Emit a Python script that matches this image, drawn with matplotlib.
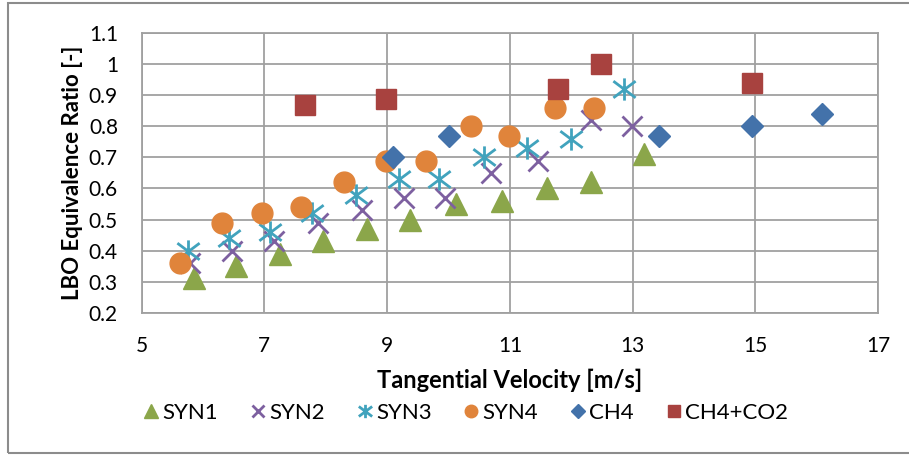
import matplotlib
matplotlib.use('Agg')
import matplotlib.pyplot as plt
from matplotlib.path import Path
from matplotlib.patches import Rectangle

# data
syn1_x = [5.85, 6.54, 7.26, 7.96, 8.68, 9.38, 10.13, 10.87, 11.60, 12.32, 13.18]
syn1_y = [0.31, 0.35, 0.39, 0.43, 0.47, 0.50, 0.55, 0.56, 0.60, 0.62, 0.71]
syn2_x = [5.79, 6.48, 7.15, 7.88, 8.59, 9.28, 9.94, 10.70, 11.45, 12.32, 12.99]
syn2_y = [0.36, 0.40, 0.43, 0.49, 0.53, 0.57, 0.57, 0.65, 0.69, 0.82, 0.80]
syn3_x = [5.75, 6.43, 7.10, 7.77, 8.49, 9.20, 9.85, 10.58, 11.28, 11.99, 12.86]
syn3_y = [0.40, 0.44, 0.46, 0.52, 0.58, 0.63, 0.63, 0.70, 0.73, 0.76, 0.92]
syn4_x = [5.62, 6.31, 6.96, 7.60, 8.30, 8.98, 9.64, 10.37, 10.98, 11.73, 12.37]
syn4_y = [0.36, 0.49, 0.52, 0.54, 0.62, 0.69, 0.69, 0.80, 0.77, 0.86, 0.86]
ch4_x = [9.09, 10.01, 13.43, 14.94, 16.08]
ch4_y = [0.70, 0.77, 0.77, 0.80, 0.84]
co2_x = [7.66, 8.99, 11.79, 12.48, 14.94]
co2_y = [0.87, 0.89, 0.92, 1.00, 0.94]

plt.rcParams['font.family'] = ['Lato', 'DejaVu Sans']

# excel-like asterisk marker (x plus vertical bar)
star = Path([(0, -1), (0, 1), (-1, -0.75), (1, 0.75), (-1, 0.75), (1, -0.75)],
            [Path.MOVETO, Path.LINETO, Path.MOVETO, Path.LINETO, Path.MOVETO, Path.LINETO])

fig = plt.figure(figsize=(9.09, 4.57), dpi=100)
fig.patches.append(Rectangle((8/909, 4/457), 1.1, 1-7/457, transform=fig.transFigure,
                             fill=False, edgecolor='#8c8c8c', linewidth=1.5))
ax = fig.add_axes([0.1557, 0.316, 0.8105, 0.611])

ax.plot(syn1_x, syn1_y, ls='none', marker='^', ms=16, color='#8ba64a', label='SYN1')
ax.plot(syn2_x, syn2_y, ls='none', marker='x', ms=15, mew=2, color='#7d60a0', label='SYN2')
ax.plot(syn3_x, syn3_y, ls='none', marker=star, ms=16, mew=2, mfc='none', color='#41a3bd', label='SYN3')
ax.plot(syn4_x, syn4_y, ls='none', marker='o', ms=15, color='#e0843b', label='SYN4')
ax.plot(ch4_x, ch4_y, ls='none', marker='D', ms=11.5, color='#4372aa', label='CH4')
ax.plot(co2_x, co2_y, ls='none', marker='s', ms=15, color='#a8423f', label='CH4+CO2')

ax.set_xlim(5, 17)
ax.set_ylim(0.2, 1.1)
ax.set_xticks([5, 7, 9, 11, 13, 15, 17])
ax.set_yticks([0.2, 0.3, 0.4, 0.5, 0.6, 0.7, 0.8, 0.9, 1.0, 1.1])
ax.set_yticklabels(['0.2', '0.3', '0.4', '0.5', '0.6', '0.7', '0.8', '0.9', '1', '1.1'])
ax.grid(True, color='#a0a0a0', linewidth=1.3)
ax.set_axisbelow(True)
for s in ax.spines.values():
    s.set_color('#a0a0a0')
    s.set_linewidth(1.3)
ax.tick_params(length=0, labelsize=15)
ax.tick_params(axis='x', pad=17)
ax.tick_params(axis='y', pad=17)

ax.set_xlabel('Tangential Velocity [m/s]', fontsize=17, fontweight='bold', labelpad=9)
ax.set_ylabel('LBO Equivalence Ratio [-]', fontsize=16, fontweight='bold', labelpad=4)

fig.legend(loc='center', bbox_to_anchor=(0.513, 0.096), ncol=6, frameon=False,
           fontsize=16, markerscale=0.6, handlelength=0.6, handletextpad=0.2, columnspacing=1.5)

plt.savefig('out.png')
